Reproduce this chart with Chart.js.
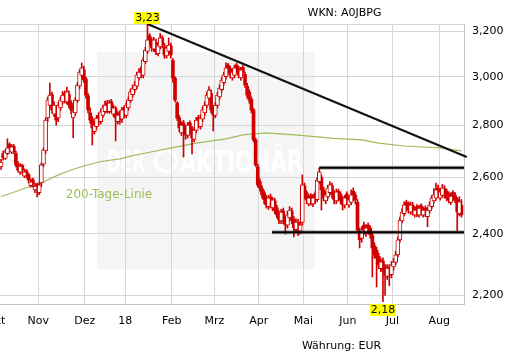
<!DOCTYPE html>
<html><head><meta charset="utf-8">
<script src="https://cdn.jsdelivr.net/npm/chart.js@4/dist/chart.umd.min.js"></script>
<style>html,body{margin:0;padding:0;background:#fff}canvas{display:block}</style>
</head><body>
<canvas id="c" width="521" height="358"></canvas>
<script>
// ---- data (trading days, index 0 = first visible day in October 2017) ----
const monthTicks  = [-2.5,17.5,39.5,58.5,80.5,100.5,121.5,142.5,163.5,184.5,206.5];
const monthLabels = ['Okt','Nov','Dez','18','Feb','Mrz','Apr','Mai','Jun','Jul','Aug'];
const yTicks = [2.2,2.4,2.6,2.8,3.0,3.2];

const opens = [
2.640,2.690,2.672,2.690,2.725,2.695,2.718,2.690,2.650,2.620,
2.645,2.605,2.625,2.610,2.570,2.592,2.555,2.575,2.545,2.580,
2.650,2.700,2.830,2.880,2.925,2.845,2.870,2.830,2.870,2.895,
2.930,2.895,2.925,2.890,2.830,2.850,2.900,2.960,3.005,3.030,
2.990,2.920,2.850,2.825,2.775,2.795,2.840,2.815,2.840,2.855,
2.890,2.855,2.895,2.845,2.868,2.815,2.850,2.825,2.870,2.840,
2.870,2.900,2.925,2.945,2.960,2.995,3.035,3.005,3.065,3.110,
3.180,3.160,3.120,3.150,3.100,3.130,3.170,3.130,3.090,3.110,
3.135,3.070,2.994,2.890,2.830,2.770,2.810,2.790,2.760,2.810,
2.785,2.745,2.780,2.830,2.795,2.825,2.850,2.880,2.910,2.930,
2.870,2.840,2.880,2.915,2.945,2.975,3.000,3.050,3.035,2.995,
3.005,3.050,3.035,2.995,3.040,3.010,2.960,2.935,2.905,2.862,
2.743,2.640,2.585,2.560,2.545,2.525,2.495,2.530,2.490,2.515,
2.490,2.470,2.445,2.480,2.455,2.430,2.455,2.480,2.450,2.415,
2.440,2.410,2.440,2.570,2.545,2.505,2.535,2.505,2.540,2.520,
2.585,2.600,2.555,2.515,2.530,2.545,2.570,2.545,2.515,2.550,
2.540,2.525,2.500,2.540,2.500,2.510,2.550,2.535,2.510,2.410,
2.385,2.430,2.400,2.430,2.420,2.395,2.360,2.345,2.325,2.285,
2.310,2.290,2.260,2.290,2.265,2.290,2.305,2.330,2.380,2.445,
2.470,2.510,2.505,2.475,2.500,2.465,2.495,2.465,2.498,2.465,
2.490,2.460,2.480,2.495,2.515,2.525,2.560,2.525,2.535,2.560,
2.550,2.540,2.510,2.545,2.535,2.520,2.470,2.500];

const highs = [
2.668,2.700,2.705,2.747,2.732,2.725,2.725,2.700,2.660,2.652,
2.650,2.632,2.630,2.615,2.595,2.598,2.580,2.580,2.582,2.655,
2.712,2.830,2.915,2.973,2.935,2.895,2.880,2.892,2.915,2.938,
2.940,2.956,2.940,2.900,2.870,2.912,2.975,3.030,3.059,3.045,
2.998,2.930,2.870,2.835,2.815,2.840,2.850,2.865,2.882,2.898,
2.900,2.902,2.905,2.882,2.876,2.855,2.858,2.872,2.878,2.892,
2.915,2.948,2.965,2.980,3.020,3.035,3.045,3.082,3.128,3.233,
3.190,3.170,3.172,3.165,3.150,3.190,3.180,3.145,3.135,3.170,
3.146,3.078,3.000,2.896,2.840,2.815,2.820,2.800,2.812,2.818,
2.795,2.792,2.832,2.840,2.842,2.875,2.895,2.935,2.958,2.945,
2.880,2.892,2.935,2.965,2.998,3.020,3.060,3.058,3.045,3.032,
3.050,3.058,3.045,3.040,3.048,3.020,2.972,2.945,2.915,2.868,
2.750,2.650,2.595,2.570,2.552,2.535,2.535,2.540,2.528,2.525,
2.500,2.480,2.485,2.490,2.462,2.478,2.495,2.490,2.460,2.452,
2.450,2.442,2.610,2.580,2.552,2.538,2.542,2.538,2.548,2.600,
2.636,2.610,2.565,2.550,2.572,2.585,2.580,2.552,2.558,2.558,
2.548,2.532,2.535,2.548,2.530,2.555,2.562,2.545,2.520,2.420,
2.425,2.441,2.432,2.438,2.428,2.404,2.370,2.355,2.335,2.318,
2.320,2.298,2.298,2.298,2.308,2.318,2.342,2.390,2.458,2.488,
2.512,2.518,2.512,2.512,2.510,2.494,2.502,2.500,2.505,2.494,
2.498,2.492,2.512,2.535,2.560,2.580,2.572,2.560,2.575,2.570,
2.558,2.548,2.545,2.552,2.545,2.528,2.530,2.520];

const lows = [
2.630,2.665,2.668,2.685,2.695,2.690,2.690,2.640,2.620,2.612,
2.615,2.600,2.598,2.580,2.565,2.565,2.545,2.530,2.538,2.566,
2.640,2.690,2.815,2.870,2.850,2.835,2.801,2.815,2.860,2.885,
2.890,2.885,2.870,2.845,2.751,2.840,2.892,2.950,2.995,2.975,
2.910,2.850,2.808,2.723,2.765,2.785,2.800,2.805,2.832,2.848,
2.850,2.848,2.850,2.835,2.739,2.805,2.805,2.812,2.830,2.830,
2.860,2.892,2.915,2.935,2.950,2.985,2.995,2.995,3.055,3.100,
3.140,3.110,3.110,3.095,3.090,3.120,3.125,3.080,3.080,3.100,
3.080,2.977,2.895,2.820,2.775,2.760,2.677,2.745,2.750,2.770,
2.689,2.735,2.770,2.790,2.785,2.815,2.840,2.870,2.900,2.850,
2.778,2.830,2.870,2.905,2.935,2.965,2.990,3.015,2.995,2.985,
2.995,3.015,2.995,2.985,3.005,2.955,2.910,2.890,2.850,2.735,
2.640,2.565,2.550,2.525,2.505,2.490,2.485,2.490,2.480,2.470,
2.455,2.435,2.435,2.435,2.400,2.420,2.445,2.435,2.390,2.405,
2.394,2.400,2.430,2.525,2.505,2.498,2.500,2.495,2.505,2.512,
2.578,2.483,2.515,2.505,2.522,2.538,2.525,2.505,2.505,2.515,
2.505,2.483,2.490,2.505,2.492,2.502,2.515,2.505,2.405,2.353,
2.372,2.398,2.392,2.400,2.385,2.258,2.318,2.226,2.285,2.275,
2.180,2.200,2.250,2.230,2.255,2.280,2.298,2.322,2.372,2.438,
2.462,2.478,2.472,2.468,2.465,2.458,2.460,2.458,2.465,2.458,
2.460,2.425,2.472,2.488,2.508,2.518,2.528,2.518,2.528,2.525,
2.515,2.508,2.502,2.515,2.508,2.407,2.462,2.458];

const closes = [
2.658,2.674,2.697,2.712,2.704,2.716,2.697,2.647,2.628,2.643,
2.628,2.621,2.606,2.591,2.584,2.577,2.569,2.555,2.573,2.647,
2.704,2.821,2.903,2.923,2.862,2.882,2.821,2.882,2.903,2.923,
2.903,2.936,2.882,2.862,2.854,2.903,2.965,3.020,3.038,2.986,
2.923,2.862,2.821,2.790,2.801,2.829,2.813,2.854,2.870,2.882,
2.862,2.891,2.862,2.870,2.829,2.841,2.821,2.862,2.841,2.882,
2.903,2.936,2.952,2.965,3.008,3.020,3.008,3.072,3.116,3.161,
3.152,3.125,3.161,3.107,3.138,3.170,3.138,3.094,3.125,3.138,
3.094,2.994,2.903,2.829,2.790,2.801,2.782,2.762,2.801,2.782,
2.751,2.782,2.821,2.801,2.829,2.862,2.882,2.923,2.944,2.862,
2.841,2.882,2.923,2.952,2.986,3.008,3.038,3.029,3.008,3.020,
3.038,3.029,3.008,3.029,3.020,2.965,2.923,2.903,2.862,2.743,
2.647,2.573,2.562,2.537,2.519,2.501,2.526,2.501,2.519,2.483,
2.466,2.448,2.476,2.448,2.431,2.466,2.483,2.448,2.421,2.441,
2.414,2.431,2.573,2.537,2.519,2.526,2.512,2.526,2.519,2.591,
2.621,2.555,2.526,2.537,2.562,2.573,2.537,2.519,2.548,2.526,
2.519,2.501,2.526,2.519,2.519,2.537,2.526,2.519,2.414,2.380,
2.414,2.407,2.421,2.414,2.397,2.353,2.330,2.320,2.297,2.307,
2.280,2.264,2.287,2.264,2.297,2.307,2.330,2.380,2.448,2.476,
2.501,2.490,2.483,2.501,2.476,2.483,2.469,2.490,2.476,2.483,
2.469,2.483,2.501,2.526,2.537,2.555,2.537,2.548,2.562,2.537,
2.526,2.519,2.533,2.526,2.519,2.476,2.512,2.466];

// 200-Tage-Linie
const maDays   = [0,7,11,17,22,27,33,39,47,56,62,70,78,92,106,114,125,140,157,170,178,190,207,217];
const maValues = [2.531,2.549,2.561,2.573,2.591,2.610,2.628,2.643,2.660,2.670,2.682,2.695,2.708,2.730,2.747,2.762,2.770,2.761,2.749,2.743,2.730,2.719,2.712,2.700];

// trend lines
const downTrendDays = [69,219.5];
const downTrendValues = [3.233,2.677];
const resistanceDays = [150,218.2];
const resistanceValues = [2.636,2.636];
const supportDays = [127.7,218.2];
const supportValues = [2.406,2.406];

// extreme labels
const extremeDays = [69,180];
const extremeValues = [3.233,2.180];
const extremeLabels = ['3,23','2,18'];

// ---- chart ----
const RED = '#d00000';
const FONT = '"DejaVu Sans", sans-serif';
Chart.defaults.font.family = FONT;
Chart.defaults.font.size = 11;
const idx = closes.map((_, i) => i);
const pts = (xs, ys) => xs.map((x, i) => ({x, y: ys[i]}));

const deco = {
  id: 'deco',
  beforeDraw(chart) {
    const c = chart.ctx;
    c.save();
    c.fillStyle = '#fff';
    c.fillRect(0, 0, chart.width, chart.height);
    c.fillStyle = '#f5f5f5';
    c.fillRect(97, 52, 218, 217);
    c.fillStyle = '#ffffff';
    c.strokeStyle = '#ffffff';
    c.font = 'bold 30px ' + FONT;
    c.textBaseline = 'alphabetic';
    c.textAlign = 'left';
    c.fillText('DER', 107, 172, 38);
    c.beginPath(); c.arc(166, 161, 10.5, 0, Math.PI * 2); c.lineWidth = 3; c.stroke();
    c.fillText('AKTIONÄR', 180, 172, 123);
    c.restore();
  },
  afterDraw(chart) {
    const c = chart.ctx, xs = chart.scales.x, ys = chart.scales.y;
    c.save();
    c.textAlign = 'center';
    c.textBaseline = 'middle';
    c.font = '11px ' + FONT;
    c.fillStyle = '#000';
    c.fillText('WKN: A0JBPG', 344.5, 13.5);
    c.fillText('Währung: EUR', 341.5, 346);
    c.font = '12px ' + FONT;
    c.fillStyle = '#9dbd5c';
    c.fillText('200-Tage-Linie', 109, 194.5);
    c.font = '11px ' + FONT;
    extremeLabels.forEach((t, i) => {
      const x = xs.getPixelForValue(extremeDays[i]);
      const y = ys.getPixelForValue(extremeValues[i]);
      const w = c.measureText(t).width + 2, h = 12;
      const top = i === 0 ? y - h : Math.max(y + 1, chart.chartArea.bottom);
      c.fillStyle = '#ffff00';
      c.fillRect(Math.round(x - w / 2), Math.round(top), Math.round(w), h);
      c.fillStyle = '#000';
      c.fillText(t, x, Math.round(top) + h / 2 + 0.5);
    });
    c.restore();
  }
};

new Chart(document.getElementById('c'), {
  type: 'bar',
  data: {
    datasets: [
      {type: 'line', data: pts(maDays, maValues), borderColor: '#9dbd5c', borderWidth: 1.2,
       pointRadius: 0, tension: 0, fill: false, order: 10},
      {type: 'bar', data: idx.map(i => ({x: i, y: [lows[i], highs[i]]})), backgroundColor: RED,
       barThickness: 1, grouped: false, order: 6},
      {type: 'bar', data: idx.map(i => ({x: i, y: closes[i] < opens[i] ? [opens[i], closes[i]] : null})),
       backgroundColor: RED, borderColor: RED, borderWidth: 0, barThickness: 3, grouped: false, order: 5},
      {type: 'bar', data: idx.map(i => ({x: i, y: closes[i] >= opens[i] ? [opens[i], closes[i]] : null})),
       backgroundColor: '#ffffff', borderColor: RED, borderWidth: 1, borderSkipped: false,
       barThickness: 4, grouped: false, order: 4},
      {type: 'line', data: pts(resistanceDays, resistanceValues), borderColor: 'rgba(0,0,0,0.3)', borderWidth: 4, pointRadius: 0, clip: false, order: 3},
      {type: 'line', data: pts(supportDays, supportValues), borderColor: 'rgba(0,0,0,0.3)', borderWidth: 4, pointRadius: 0, clip: false, order: 3},
      {type: 'line', data: pts(resistanceDays, resistanceValues), borderColor: '#000', borderWidth: 2, pointRadius: 0, clip: false, order: 2},
      {type: 'line', data: pts(supportDays, supportValues), borderColor: '#000', borderWidth: 2, pointRadius: 0, clip: false, order: 2},
      {type: 'line', data: pts(downTrendDays, downTrendValues), borderColor: '#111', borderWidth: 2.2, pointRadius: 0, clip: false, order: 1}
    ]
  },
  options: {
    responsive: false,
    animation: false,
    events: [],
    layout: {padding: {top: 24, left: 0, right: 0, bottom: 0}},
    plugins: {legend: {display: false}, tooltip: {enabled: false}},
    scales: {
      x: {
        type: 'linear', min: -0.5, max: 218.2, position: 'bottom', offset: false,
        afterBuildTicks: s => { s.ticks = monthTicks.map(v => ({value: v})); },
        afterFit: s => { s.height = 54; s.paddingLeft = 0; s.paddingRight = 0; },
        ticks: {autoSkip: false, maxRotation: 0, minRotation: 0, padding: 11, color: '#000',
                font: {family: FONT, size: 11},
                callback: v => { const k = monthTicks.indexOf(v); return k >= 0 ? monthLabels[k] : ''; }},
        grid: {color: '#d6d6d6', lineWidth: 1, drawTicks: false, offset: false},
        border: {color: '#c4c4c4', width: 1}
      },
      y: {
        type: 'logarithmic', position: 'right', min: 2.173, max: 3.233,
        afterBuildTicks: s => { s.ticks = yTicks.concat([3.233]).map(v => ({value: v})); },
        afterFit: s => { s.width = 57; s.paddingTop = 0; s.paddingBottom = 0; },
        ticks: {padding: 8, color: '#000', font: {family: FONT, size: 11},
                callback: v => (v > 3.22 ? '' : Number(v).toFixed(3).replace('.', ','))},
        grid: {color: '#d6d6d6', lineWidth: 1, drawTicks: false},
        border: {color: '#c4c4c4', width: 1}
      }
    }
  },
  plugins: [deco]
});
</script>
</body></html>
